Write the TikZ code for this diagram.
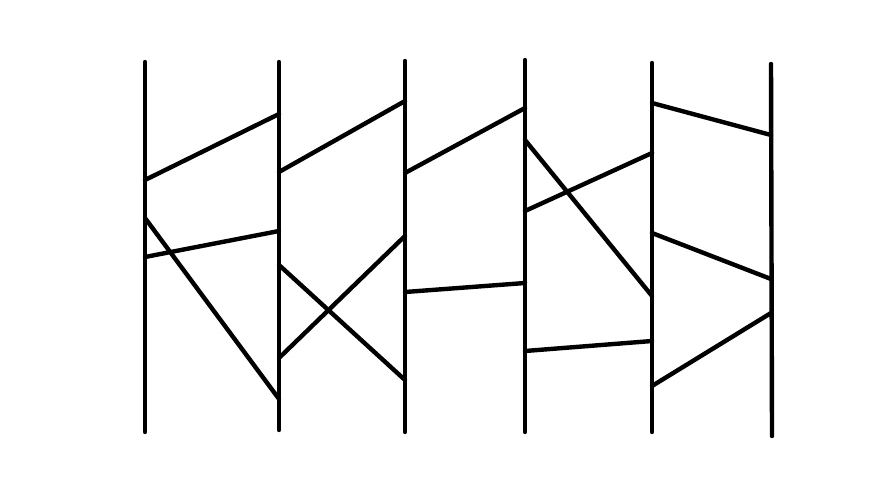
\documentclass[tikz,border=0pt]{standalone}
\begin{document}
\begin{tikzpicture}[x=1pt,y=-1pt,
  stroke/.style={line width=4.4pt,line cap=round,black}]
\useasboundingbox[fill=white] (0,0) rectangle (890,503);
% vertical lines
\coordinate (a1) at (145,62);  \coordinate (a2) at (145,432);
\coordinate (b1) at (279,62);  \coordinate (b2) at (279,430);
\coordinate (c1) at (405,61);  \coordinate (c2) at (405,432);
\coordinate (d1) at (525,60);  \coordinate (d2) at (525,432);
\coordinate (e1) at (652,63);  \coordinate (e2) at (652,432);
\coordinate (f1) at (771,64);  \coordinate (f2) at (772,436);
\foreach \v in {a,b,c,d,e,f} \draw[stroke] (\v1) -- (\v2);
% rungs
\draw[stroke] (145,180) -- (279,114);
\draw[stroke] (145,218) -- (279,399);
\draw[stroke] (145,257) -- (279,231);
\draw[stroke] (279,172) -- (405,101);
\draw[stroke] (279,265) -- (405,380);
\draw[stroke] (279,358) -- (405,236);
\draw[stroke] (405,173) -- (525,108);
\draw[stroke] (405,292) -- (525,283);
\draw[stroke] (525,140) -- (652,296);
\draw[stroke] (525,211) -- (652,153);
\draw[stroke] (525,351) -- (652,341);
\draw[stroke] (652,103) -- (771,135);
\draw[stroke] (652,233) -- (771,279);
\draw[stroke] (652,386) -- (771,313);
\end{tikzpicture}
\end{document}
